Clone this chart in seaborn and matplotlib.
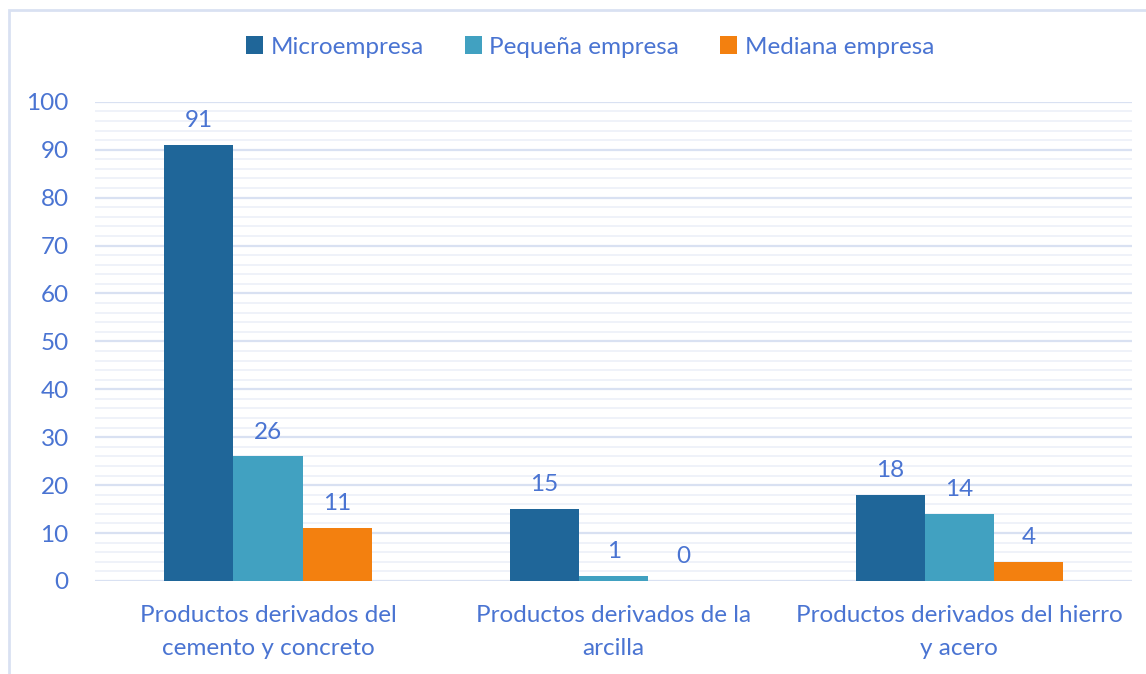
import pandas as pd
import seaborn as sns
import matplotlib.pyplot as plt
from matplotlib.patches import Rectangle
from matplotlib.ticker import MultipleLocator

# Data
categories = [
    'Productos derivados del\ncemento y concreto',
    'Productos derivados de la\narcilla',
    'Productos derivados del hierro\ny acero',
]
series = ['Microempresa', 'Pequeña empresa', 'Mediana empresa']
micro = [91, 15, 18]
pequena = [26, 1, 14]
mediana = [11, 0, 4]

colors = ['#1F6699', '#41A1C1', '#F3800F']
text_color = '#4A74D2'
fs = 17.5

df = pd.DataFrame({
    'categoria': categories * 3,
    'tipo': [s for s in series for _ in categories],
    'valor': micro + pequena + mediana,
})

sns.set_style('white')
plt.rcParams['font.family'] = ['Lato', 'DejaVu Sans']

fig = plt.figure(figsize=(11.46, 6.74), dpi=100)
ax = fig.add_axes([0.083, 0.138, 0.905, 0.711])

sns.barplot(data=df, x='categoria', y='valor', hue='tipo', palette=colors,
            width=0.6, gap=0, linewidth=0, saturation=1, ax=ax, legend=True)

# Data labels
for cont in ax.containers:
    ax.bar_label(cont, fmt='%g', padding=10, fontsize=fs, color=text_color)

ax.set_xlim(-0.5, 2.5)
ax.set_ylim(0, 100)
ax.yaxis.set_major_locator(MultipleLocator(10))
ax.yaxis.set_minor_locator(MultipleLocator(2))
ax.grid(axis='y', which='major', color='#D9E1F2', linewidth=1.6)
ax.grid(axis='y', which='minor', color='#EFF2F9', linewidth=1.4)
ax.set_axisbelow(True)
for s in ax.spines.values():
    s.set_visible(False)

ax.set_xlabel('')
ax.set_ylabel('')
ax.tick_params(axis='y', length=0, pad=19, labelsize=fs, labelcolor=text_color)
ax.tick_params(axis='x', length=0, pad=17, labelsize=fs, labelcolor=text_color)
for lbl in ax.get_xticklabels():
    lbl.set_linespacing(1.75)

handles, labels = ax.get_legend_handles_labels()
ax.legend(handles, labels, loc='center', bbox_to_anchor=(590 / 1146, 1 - 47 / 674),
          bbox_transform=fig.transFigure, ncol=3, frameon=False, fontsize=fs,
          labelcolor=text_color, handlelength=0.7, handleheight=0.7,
          handletextpad=0.3, columnspacing=1.7)

# Light border around the chart area (cut off at right/bottom in the reference)
fig.patches.append(Rectangle((8.5 / 1146, -0.1), 1.2, 1 - 9.5 / 674 + 0.1,
                             transform=fig.transFigure, fill=False,
                             edgecolor='#D9E1F2', linewidth=2))

plt.savefig('out.png', dpi=100)
plt.close()
